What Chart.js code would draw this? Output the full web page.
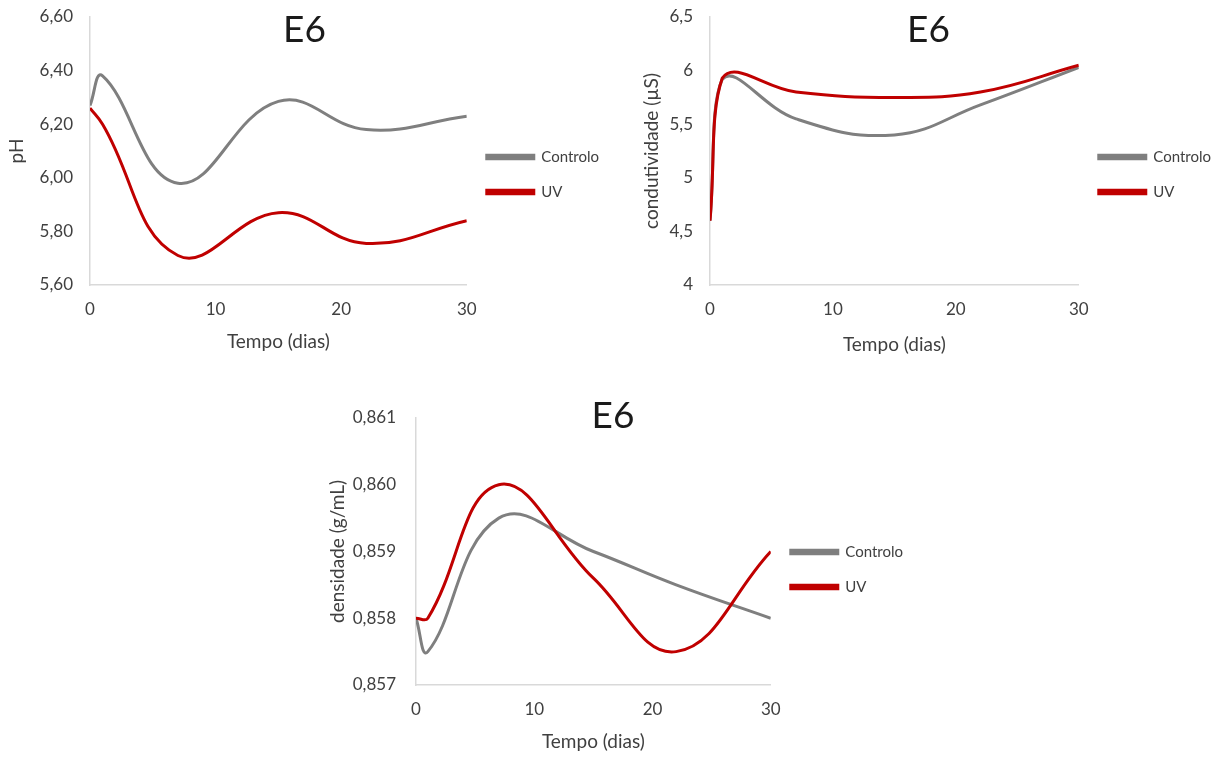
<!DOCTYPE html>
<html>
<head>
<meta charset="utf-8">
<script src="https://cdn.jsdelivr.net/npm/chart.js@4.4.1/dist/chart.umd.min.js"></script>
<style>
  html, body { margin: 0; padding: 0; background: #fff; }
  body { width: 1212px; height: 758px; position: relative; overflow: hidden; }
  .box { position: absolute; }
</style>
</head>
<body>
<div class="box" style="left:0;top:0;width:609px;height:360px"><canvas id="phChart"></canvas></div>
<div class="box" style="left:636px;top:0;width:585px;height:360px"><canvas id="condChart"></canvas></div>
<div class="box" style="left:313px;top:380px;width:600px;height:378px"><canvas id="densChart"></canvas></div>
<script>
// sampling days
const days = [0, 1, 7, 15, 22, 30];
const xTicks = [0, 10, 20, 30];

// pH
const phControlo = [6.27, 6.38, 5.98, 6.285, 6.18, 6.23];
const phUV = [6.26, 6.2, 5.71, 5.87, 5.755, 5.84];
const phTicks = [5.6, 5.8, 6.0, 6.2, 6.4, 6.6];

// condutividade (µS)
const condControlo = [4.6, 5.92, 5.55, 5.4, 5.68, 6.03];
const condUV = [4.6, 5.93, 5.8, 5.75, 5.8, 6.05];
const condTicks = [4, 4.5, 5, 5.5, 6, 6.5];

// densidade (g/mL)
const densControlo = [0.858, 0.8575, 0.8595, 0.859, 0.8585, 0.858];
const densUV = [0.858, 0.858, 0.86, 0.8586, 0.8575, 0.859];
const densTicks = [0.857, 0.858, 0.859, 0.86, 0.861];

const FONT = "Lato, 'Open Sans', sans-serif";
const GRAY = '#7f7f7f';
const RED = '#c00000';
const TEXT = '#404040';
const TITLE_SIZE = 37;
const TITLE_LH = 1.15;

const pts = (ys) => ys.map((y, i) => ({ x: days[i], y }));

function makeChart(id, cfg) {
  const ds = (label, ys, color, order) => ({
    label, data: pts(ys), borderColor: color, backgroundColor: color,
    borderWidth: 3, pointRadius: 0, tension: 0.42, fill: false, order
  });
  const titleLine = TITLE_SIZE * TITLE_LH;
  // tick marks are invisible; their length just spaces the labels from the axis
  const hiddenGrid = (len) => ({
    display: true, drawOnChartArea: false, drawTicks: true,
    tickLength: len, color: 'rgba(0,0,0,0)'
  });
  return new Chart(document.getElementById(id), {
    type: 'line',
    data: {
      datasets: [
        ds('Controlo', cfg.controlo, GRAY, 1),
        ds('UV', cfg.uv, RED, 0)
      ]
    },
    options: {
      responsive: true,
      maintainAspectRatio: false,
      animation: false,
      layout: { padding: { top: cfg.padTop, bottom: cfg.padBottom, left: 0, right: 0 } },
      plugins: {
        title: {
          display: true, text: 'E6', color: '#1a1a1a',
          font: { family: FONT, size: TITLE_SIZE, weight: 'normal', lineHeight: TITLE_LH },
          padding: { top: cfg.titleTop, bottom: -titleLine - cfg.titleTop }
        },
        legend: {
          position: 'right',
          labels: {
            boxWidth: 47, boxHeight: 3.5, padding: 20, color: TEXT,
            font: { family: FONT, size: 15 },
            sort: (a, b) => a.datasetIndex - b.datasetIndex
          }
        },
        tooltip: { enabled: false }
      },
      scales: {
        x: {
          type: 'linear', min: 0, max: 30,
          grid: hiddenGrid(14),
          border: { display: true, color: '#d9d9d9', width: 1.5 },
          afterBuildTicks: (s) => { s.ticks = xTicks.map((v) => ({ value: v })); },
          afterFit: (s) => { s.height = cfg.xh; },
          ticks: { padding: 0, color: TEXT, font: { family: FONT, size: 17 }, maxRotation: 0 },
          title: {
            display: true, text: 'Tempo (dias)', color: TEXT,
            font: { family: FONT, size: 19, lineHeight: 1.2 },
            padding: { top: 0, bottom: cfg.xTitleBottom }
          }
        },
        y: {
          type: 'linear', min: cfg.ticks[0], max: cfg.ticks[cfg.ticks.length - 1],
          grid: hiddenGrid(cfg.yGap),
          border: { display: true, color: '#d9d9d9', width: 1.5 },
          afterBuildTicks: (s) => { s.ticks = cfg.ticks.map((v) => ({ value: v })); },
          afterFit: (s) => { s.width = cfg.yw; },
          ticks: {
            padding: 0, color: TEXT, font: { family: FONT, size: 17 },
            callback: (v) => cfg.fmt(v)
          },
          title: {
            display: true, text: cfg.yTitle, color: TEXT,
            font: { family: FONT, size: 19, lineHeight: 1.2 },
            padding: { top: cfg.yTitleTop, bottom: 0 }
          }
        }
      }
    }
  });
}

const comma = (d) => (v) => v.toFixed(d).replace('.', ',');
const condFmt = (v) => (Number.isInteger(v) ? String(v) : v.toFixed(1).replace('.', ','));

makeChart('phChart', {
  controlo: phControlo, uv: phUV, ticks: phTicks, fmt: comma(2), yTitle: 'pH',
  padTop: 17, padBottom: 28, titleTop: -8.3, xh: 47, xTitleBottom: -21.4,
  yw: 90, yGap: 17, yTitleTop: 5.6
});

makeChart('condChart', {
  controlo: condControlo, uv: condUV, ticks: condTicks, fmt: condFmt, yTitle: 'condutividade (µS)',
  padTop: 17, padBottom: 28, titleTop: -8.3, xh: 47, xTitleBottom: -24.4,
  yw: 74, yGap: 17, yTitleTop: 4.6
});

makeChart('densChart', {
  controlo: densControlo, uv: densUV, ticks: densTicks, fmt: comma(3), yTitle: 'densidade (g/mL)',
  padTop: 38, padBottom: 37, titleTop: -23.3, xh: 36, xTitleBottom: -32.4,
  yw: 103, yGap: 20, yTitleTop: 13.6
});
</script>
</body>
</html>
